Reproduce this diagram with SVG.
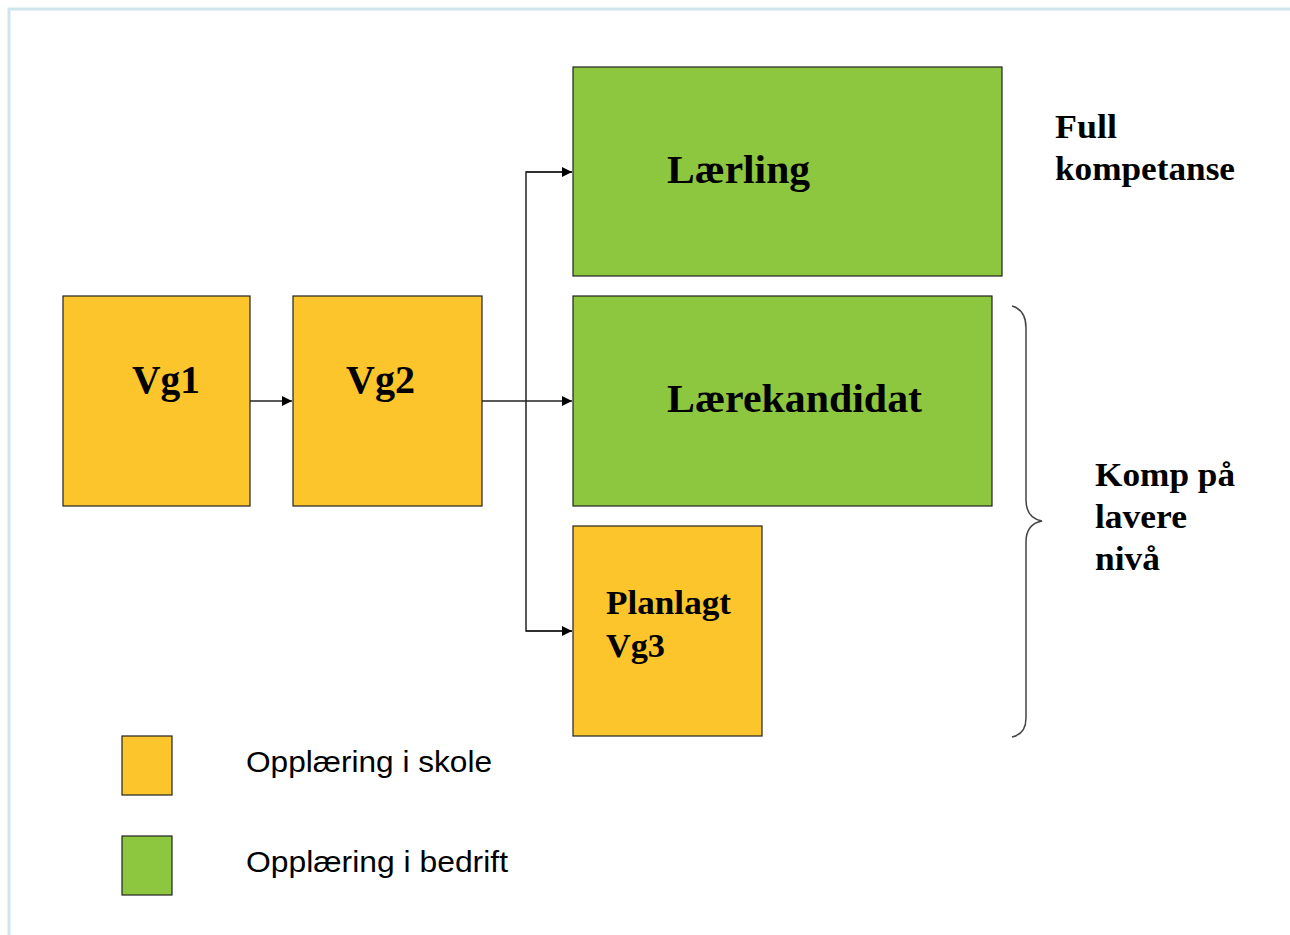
<svg xmlns="http://www.w3.org/2000/svg" width="1290" height="935" viewBox="0 0 1290 935">
<defs>
<style>
.yel{fill:#FCC52B;stroke:#222;stroke-width:1.2}
.grn{fill:#8DC63F;stroke:#222;stroke-width:1.2}
.big{font-family:"Liberation Serif",serif;font-weight:bold;font-size:41px;fill:#000}
.mid{font-family:"Liberation Serif",serif;font-weight:bold;font-size:34px;fill:#000}
.leg{font-family:"Liberation Sans",sans-serif;font-size:30px;fill:#000}
.ln{fill:none;stroke:#222;stroke-width:1.5}
</style>
<marker id="ah" markerWidth="10" markerHeight="10" refX="10" refY="5" orient="auto" markerUnits="userSpaceOnUse">
<path d="M0,0 L10,5 L0,10 z" fill="#000"/>
</marker>
</defs>
<rect x="0" y="0" width="1290" height="935" fill="#fff"/>
<path d="M9,935 V9 H1290" fill="none" stroke="#CFE6EC" stroke-width="3"/>
<g id="connectors">
<line class="ln" x1="250" y1="401" x2="292" y2="401" marker-end="url(#ah)"/>
<line class="ln" x1="482" y1="401" x2="572" y2="401" marker-end="url(#ah)"/>
<polyline class="ln" points="572,172 526,172 526,631 572,631"/>
<line class="ln" x1="526" y1="172" x2="572" y2="172" marker-end="url(#ah)"/>
<line class="ln" x1="526" y1="631" x2="572" y2="631" marker-end="url(#ah)"/>
</g>
<g id="vg1"><rect class="yel" x="63" y="296" width="187" height="210"/><text class="big" x="132" y="393" textLength="68" lengthAdjust="spacingAndGlyphs">Vg1</text></g>
<g id="vg2"><rect class="yel" x="293" y="296" width="189" height="210"/><text class="big" x="346" y="393" textLength="69" lengthAdjust="spacingAndGlyphs">Vg2</text></g>
<g id="laerling"><rect class="grn" x="573" y="67" width="429" height="209"/><text class="big" x="667" y="183" textLength="143" lengthAdjust="spacingAndGlyphs">Lærling</text></g>
<g id="laerekandidat"><rect class="grn" x="573" y="296" width="419" height="210"/><text class="big" x="667" y="412" textLength="255" lengthAdjust="spacingAndGlyphs">Lærekandidat</text></g>
<g id="vg3"><rect class="yel" x="573" y="526" width="189" height="210"/><text class="mid" x="606" y="614" textLength="125" lengthAdjust="spacingAndGlyphs">Planlagt</text><text class="mid" x="606" y="657" textLength="59" lengthAdjust="spacingAndGlyphs">Vg3</text></g>
<g id="full"><text class="mid" x="1055" y="138" textLength="62" lengthAdjust="spacingAndGlyphs">Full</text><text class="mid" x="1055" y="180" textLength="180" lengthAdjust="spacingAndGlyphs">kompetanse</text></g>
<g id="brace">
<path d="M1012,306 Q1026,310 1026,328 V500 Q1026,518 1042,521 Q1026,524 1026,542 V718 Q1026,734 1012,737" fill="none" stroke="#444" stroke-width="1.5"/>
</g>
<g id="komp"><text class="mid" x="1095" y="486" textLength="140" lengthAdjust="spacingAndGlyphs">Komp på</text><text class="mid" x="1095" y="528" textLength="92" lengthAdjust="spacingAndGlyphs">lavere</text><text class="mid" x="1095" y="570" textLength="65" lengthAdjust="spacingAndGlyphs">nivå</text></g>
<g id="legend-skole"><rect class="yel" x="122" y="736" width="50" height="59"/><text class="leg" x="246" y="772" textLength="246" lengthAdjust="spacingAndGlyphs">Opplæring i skole</text></g>
<g id="legend-bedrift"><rect class="grn" x="122" y="836" width="50" height="59"/><text class="leg" x="246" y="872" textLength="262" lengthAdjust="spacingAndGlyphs">Opplæring i bedrift</text></g>
</svg>
